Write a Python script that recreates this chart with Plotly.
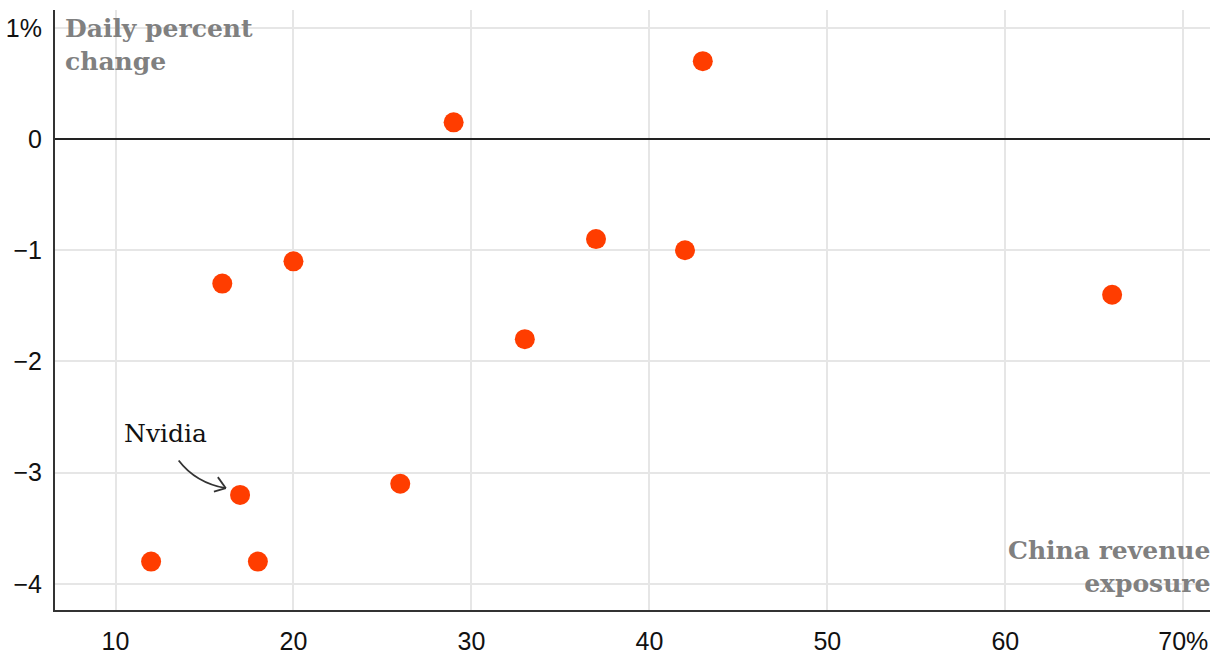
import plotly.graph_objects as go

# Data
china_exposure = [12, 16, 17, 18, 20, 26, 29, 33, 37, 42, 43, 66]
daily_change = [-3.8, -1.3, -3.2, -3.8, -1.1, -3.1, 0.15, -1.8, -0.9, -1.0, 0.7, -1.4]
x_ticks = [10, 20, 30, 40, 50, 60, 70]
x_tick_labels = ["10", "20", "30", "40", "50", "60", "70%"]
y_ticks = [1, 0, -1, -2, -3, -4]
y_tick_labels = ["1%", "0", "\u22121", "\u22122", "\u22123", "\u22124"]

# Nvidia callout
nv_label_pos = (12.8, -2.65)
nv_arrow = [(13.55, -2.89), (14.5, -3.09), (16.2, -3.14)]

fig = go.Figure()
fig.add_trace(go.Scatter(
    x=china_exposure, y=daily_change, mode="markers",
    marker=dict(size=20, color="#FF3D00", line=dict(width=0)),
    hoverinfo="x+y", showlegend=False,
))

axis_font = dict(family="Liberation Sans, Arial, sans-serif", size=25, color="#111")
fig.update_xaxes(
    range=[6.6, 71.5], tickvals=x_ticks, ticktext=x_tick_labels,
    showgrid=True, gridcolor="#e6e6e6", gridwidth=2,
    zeroline=False, showline=True, linecolor="#333", linewidth=2,
    ticks="", tickfont=axis_font, ticklabelstandoff=8, automargin=False,
)
fig.update_yaxes(
    range=[-4.235, 1.16], tickvals=y_ticks, ticktext=y_tick_labels,
    showgrid=True, gridcolor="#e6e6e6", gridwidth=2,
    zeroline=True, zerolinecolor="#222", zerolinewidth=1.5,
    showline=True, linecolor="#333", linewidth=2,
    ticks="", tickfont=axis_font, ticklabelstandoff=6, automargin=False,
)

label_font = dict(family="DejaVu Serif, serif", size=25, color="#808080", weight="bold")
fig.add_annotation(
    x=0, y=1, xref="paper", yref="paper", xanchor="left", yanchor="top",
    text="Daily percent<br>change", showarrow=False, align="left",
    font=label_font, xshift=8, yshift=-2,
)
fig.add_annotation(
    x=1, y=0, xref="paper", yref="paper", xanchor="right", yanchor="bottom",
    text="China revenue<br>exposure", showarrow=False, align="right",
    font=label_font, yshift=10, xshift=2,
)
fig.add_annotation(
    x=nv_label_pos[0], y=nv_label_pos[1], xref="x", yref="y",
    text="Nvidia", showarrow=False, font=dict(family="DejaVu Serif, serif", size=25, color="#111"),
)

(x0, y0), (cx, cy), (x1, y1) = nv_arrow
fig.add_shape(type="path", xref="x", yref="y",
              path=f"M {x0},{y0} Q {cx},{cy} {x1},{y1}",
              line=dict(color="#333", width=1.8))
# arrowhead
fig.add_shape(type="line", xref="x", yref="y", x0=x1, y0=y1, x1=x1 - 0.45, y1=y1 + 0.1,
              line=dict(color="#333", width=1.8))
fig.add_shape(type="line", xref="x", yref="y", x0=x1, y0=y1, x1=x1 - 0.67, y1=y1 - 0.03,
              line=dict(color="#333", width=1.8))

fig.update_layout(
    width=1220, height=672,
    margin=dict(l=55, r=10, t=10, b=62),
    plot_bgcolor="white", paper_bgcolor="white",
)

fig.write_html("out.html", config={"displayModeBar": False},
               post_script="document.body.style.margin='0';document.body.style.padding='0';")
